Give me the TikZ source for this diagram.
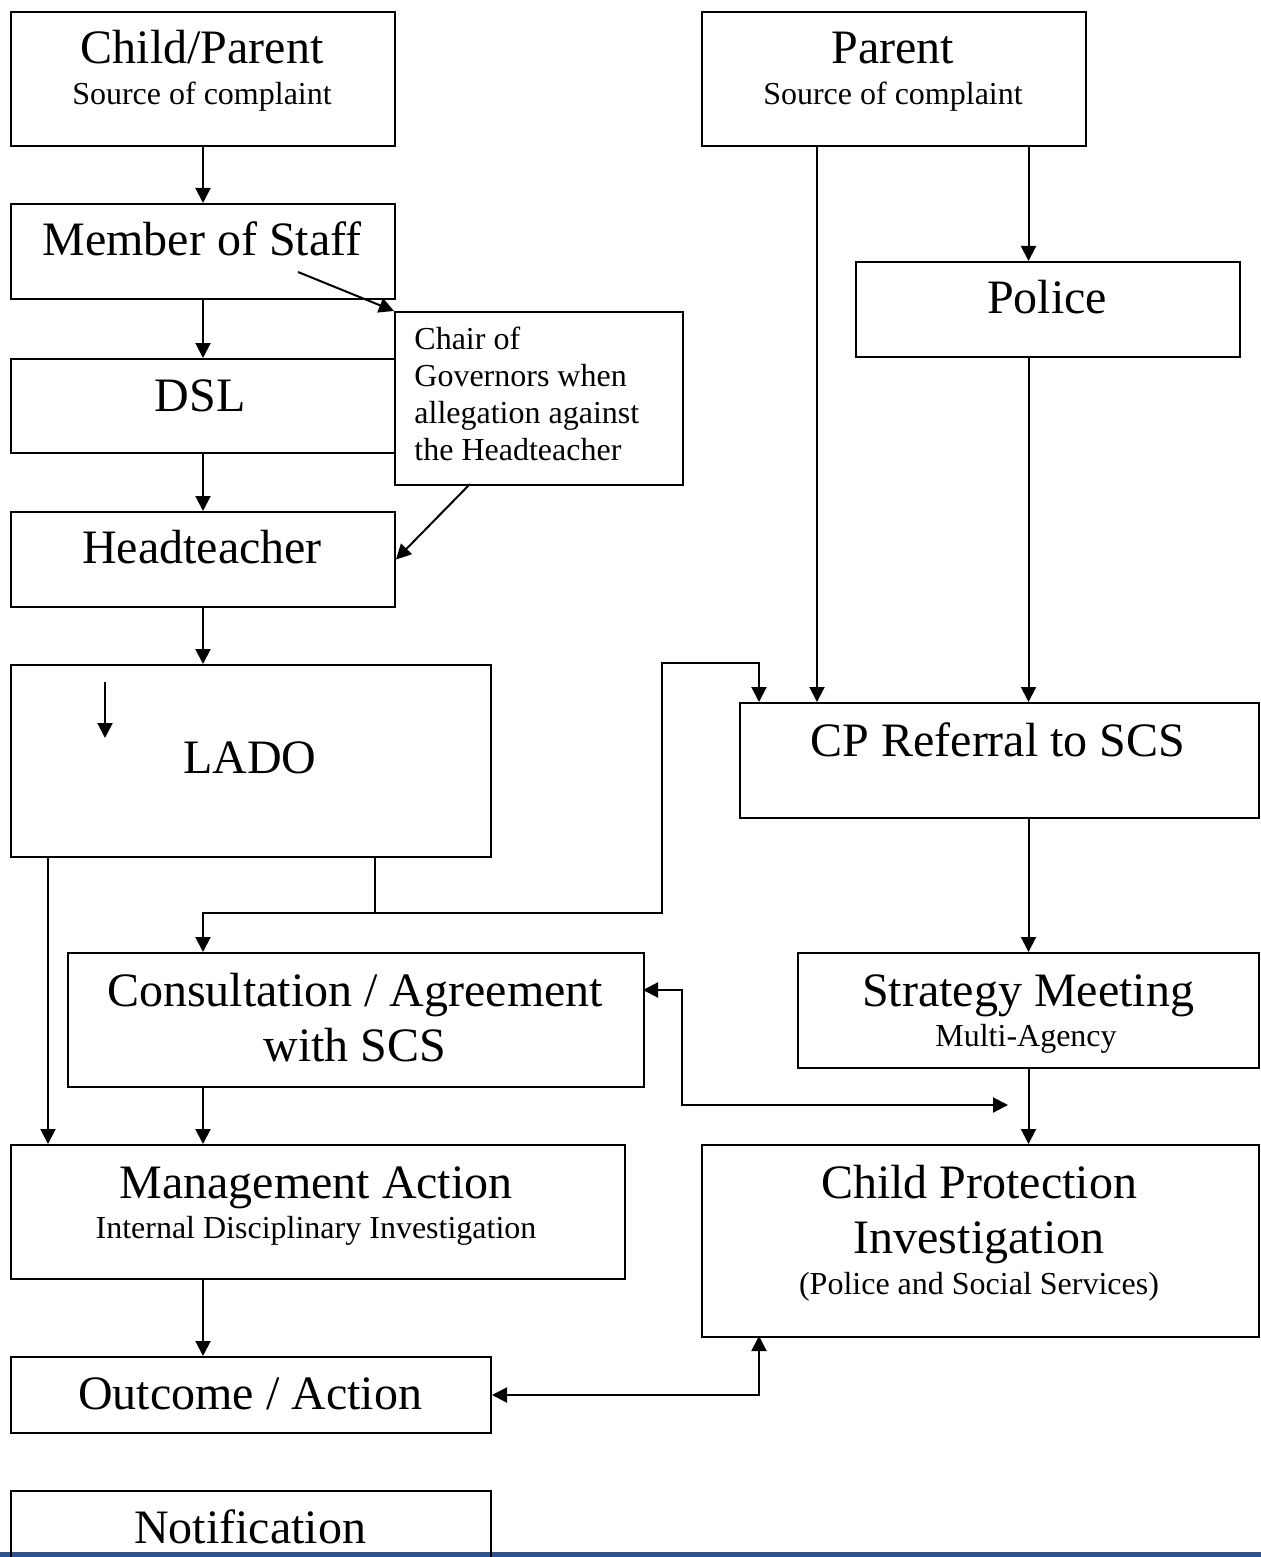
\documentclass[tikz,border=0pt]{standalone}
\usepackage{fontspec}
\setmainfont{Liberation Serif}
\usepackage{tikz}
\usepackage{xcolor}
\usetikzlibrary{arrows.meta}

\definecolor{rulebl}{RGB}{47,84,150}
\tikzset{
  box/.style={draw, line width=1pt, anchor=north west, inner sep=0pt},
  big/.style={anchor=base, inner sep=0pt, font=\fontsize{24}{28}\selectfont},
  small/.style={anchor=base, inner sep=0pt, font=\fontsize{16}{18.5}\selectfont},
  arr/.style={line width=1pt, -{Triangle[length=7.5pt,width=7.5pt]}},
  arrs/.style={line width=1pt, {Triangle[length=7.5pt,width=7.5pt]}-{Triangle[length=7.5pt,width=7.5pt]}},
  link/.style={line width=1pt}
}

\begin{document}
\begin{tikzpicture}[x=0.5pt,y=-0.5pt]
            \useasboundingbox (0,0) rectangle (1261,1557);
            \fill[rulebl] (0,1552) rectangle (1261,1557);

            \node[box, minimum width=192pt, minimum height=67pt] (child) at (10,11){};
            \node[box, minimum width=192pt, minimum height=67pt] (parent) at (701,11){};
            \node[box, minimum width=192pt, minimum height=47.5pt] (staff) at (10,203){};
            \node[box, minimum width=192pt, minimum height=47.5pt] (police) at (855,261){};
            \node[box, minimum width=192pt, minimum height=47pt] (dsl) at (10,358){};
            \node[box, minimum width=144pt, minimum height=86.5pt] (chair) at (394,311){};
            \node[box, minimum width=192pt, minimum height=47.5pt] (head) at (10,511){};
            \node[box, minimum width=240pt, minimum height=96pt] (lado) at (10,664){};
            \node[box, minimum width=259.5pt, minimum height=57.5pt] (cpref) at (739,702){};
            \node[box, minimum width=288pt, minimum height=67pt] (consult) at (67,952){};
            \node[box, minimum width=230.5pt, minimum height=57.5pt] (strategy) at (797,952){};
            \node[box, minimum width=307pt, minimum height=67pt] (manage) at (10,1144){};
            \node[box, minimum width=278.5pt, minimum height=96pt] (cpinv) at (701,1144){};
            \node[box, minimum width=240pt, minimum height=38pt] (outcome) at (10,1356){};
            \node[box, minimum width=240pt, minimum height=40pt] (notif) at (10,1490){};

            \node[big] (childT) at (202,64){Child/Parent};
            \node[small] (childS) at (202,105){Source of complaint};
            \node[big] (parentT) at (893,64){Parent};
            \node[small] (parentS) at (893,105){Source of complaint};
            \node[big] (staffT) at (202,256){Member of Staff};
            \node[big] (policeT) at (1047,314){Police};
            \node[big] (dslT) at (200,411){DSL};
            \node[small, anchor=north west, align=left] (chairT) at (414,327){Chair of\\Governors when\\allegation against\\the Headteacher};
            \node[big] (headT) at (202,563){Headteacher};
            \node[big] (ladoT) at (250,773){LADO};
            \node[big] (cprefT) at (998,756){CP Referral to SCS};
            \node[big] (consultT) at (355,1006){Consultation / Agreement};
            \node[big] (consultU) at (355,1061){with SCS};
            \node[big] (strategyT) at (1028,1006){Strategy Meeting};
            \node[small] (strategyS) at (1026,1046){Multi-Agency};
            \node[big] (manageT) at (316,1198){Management Action};
            \node[small] (manageS) at (316,1238){Internal Disciplinary Investigation};
            \node[big] (cpinvT) at (979,1198){Child Protection};
            \node[big] (cpinvU) at (979,1253){Investigation};
            \node[small] (cpinvS) at (979,1294){(Police and Social Services)};
            \node[big] (outcomeT) at (250,1409){Outcome / Action};
            \node[big] (notifT) at (250,1543){Notification};

            \coordinate (staffin) at (298,272);
            \coordinate (chairout) at (470,484);
            \coordinate (ladoA) at (105,682);
            \coordinate (ladoB) at (105,738);
            \coordinate (ladoL) at (48,856);
            \coordinate (split) at (375,913);
            \coordinate (bend) at (662,663);
            \coordinate (cpin) at (759,702);
            \coordinate (parentL) at (817,145);
            \coordinate (cright) at (643,990);
            \coordinate (cbend) at (682,990);
            \coordinate (cend) at (1008,1105);
            \coordinate (cpinvin) at (759,1336);

            \draw[arr] (child) -- (staff);
            \draw[arr] (staff) -- (dsl);
            \draw[arr] (dsl) -- (head);
            \draw[arr] (head.south) -- (head.south |- lado.north);
            \draw[arr] (staffin) -- (chair.north west);
            \draw[arr] (chairout) -- (head.east);

            \draw[arr] (parentL) -- (parentL |- cpref.north);
            \draw[arr] (parent.south -| strategy.north) -- (police.north -| strategy.north);
            \draw[arr] (police.south -| strategy.north) -- (cpref.north -| strategy.north);
            \draw[arr] (cpref.south -| strategy.north) -- (strategy.north);
            \draw[arr] (strategy.south) -- (cpinv.north -| strategy.south);

            \draw[arr] (ladoA) -- (ladoB);
            \draw[arr] (ladoL) -- (ladoL |- manage.north);
            \draw[link] (split |- lado.south) -- (split);
            \draw[arr] (split) -- (split -| head.south) -- (head.south |- consult.north);
            \draw[arr] (split) -| (bend) -| (cpin);

            \draw[arr] (head.south |- consult.south) -- (head.south |- manage.north);
            \draw[arr] (head.south |- manage.south) -- (head.south |- outcome.north);
            \draw[arrs] (cright) -- (cbend) |- (cend);
            \draw[arrs] (outcome.east) -| (cpinvin);
        \end{tikzpicture}
\end{document}
